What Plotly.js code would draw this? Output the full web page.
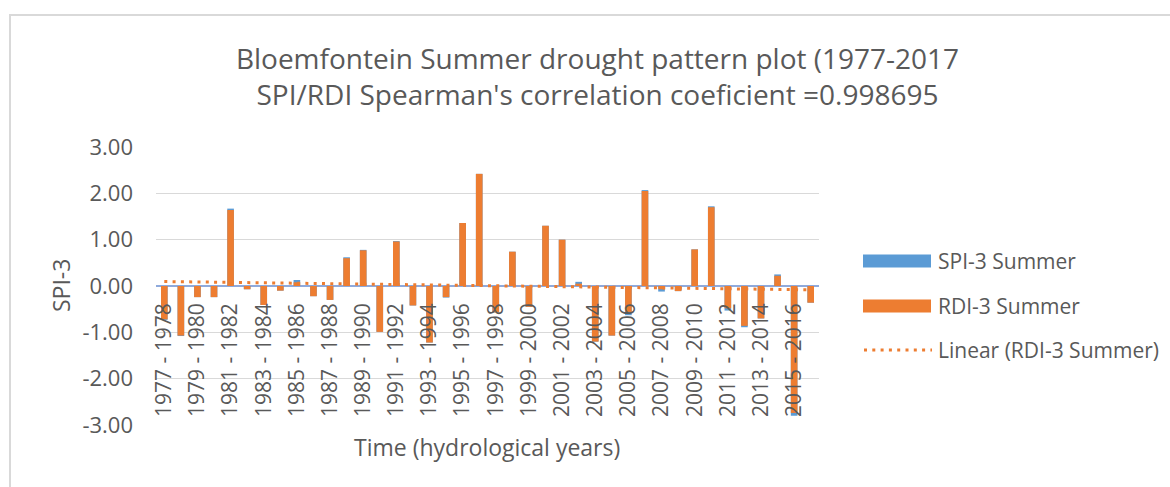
<!DOCTYPE html>
<html>
<head>
<meta charset="utf-8">
<script src="https://cdn.plot.ly/plotly-3.0.1.min.js"></script>
<style>
  html, body { margin: 0; padding: 0; background: #ffffff; }
  #wrap { position: relative; width: 1170px; height: 487px; overflow: hidden; }
  #chart { position: absolute; left: 0; top: 0; width: 1170px; height: 487px; }
  #frame { position: absolute; left: 9px; top: 14px; width: 1200px; height: 520px;
           border-left: 2px solid #d9d9d9; border-top: 2px solid #d9d9d9; pointer-events: none; }
</style>
</head>
<body>
<div id="wrap">
  <div id="chart"></div>
  <div id="frame"></div>
</div>
<script>
// ---- data ----
const categories = [
  "1977 - 1978", "1978 - 1979", "1979 - 1980", "1980 - 1981", "1981 - 1982",
  "1982 - 1983", "1983 - 1984", "1984 - 1985", "1985 - 1986", "1986 - 1987",
  "1987 - 1988", "1988 - 1989", "1989 - 1990", "1990 - 1991", "1991 - 1992",
  "1992 - 1993", "1993 - 1994", "1994 - 1995", "1995 - 1996", "1996 - 1997",
  "1997 - 1998", "1998 - 1999", "1999 - 2000", "2000 - 2001", "2001 - 2002",
  "2002 - 2003", "2003 - 2004", "2004 - 2005", "2005 - 2006", "2006 - 2007",
  "2007 - 2008", "2008 - 2009", "2009 - 2010", "2010 - 2011", "2011 - 2012",
  "2012 - 2013", "2013 - 2014", "2014 - 2015", "2015 - 2016", "2016 - 2017"
];
const spi3Summer = [
  -0.73, -1.08, -0.24, -0.24, 1.67, -0.07, -0.41, -0.10, 0.13, -0.22,
  -0.30, 0.62, 0.78, -0.99, 0.97, -0.42, -1.22, -0.25, 1.36, 2.42,
  -0.57, 0.74, -0.45, 1.30, 1.00, 0.09, -1.20, -1.07, -0.63, 2.07,
  -0.12, -0.11, 0.79, 1.72, -0.53, -0.89, -0.70, 0.25, -2.80, -0.36
];
const rdi3Summer = [
  -0.72, -1.07, -0.24, -0.24, 1.64, -0.07, -0.41, -0.10, 0.08, -0.22,
  -0.30, 0.60, 0.77, -0.99, 0.96, -0.42, -1.22, -0.24, 1.36, 2.42,
  -0.57, 0.74, -0.45, 1.30, 1.00, 0.05, -1.20, -1.07, -0.56, 2.05,
  -0.07, -0.11, 0.79, 1.70, -0.48, -0.86, -0.70, 0.22, -2.74, -0.36
];
const xTickLabels = [
  "1977 - 1978", "1979 - 1980", "1981 - 1982", "1983 - 1984", "1985 - 1986",
  "1987 - 1988", "1989 - 1990", "1991 - 1992", "1993 - 1994", "1995 - 1996",
  "1997 - 1998", "1999 - 2000", "2001 - 2002", "2003 - 2004", "2005 - 2006",
  "2007 - 2008", "2009 - 2010", "2011 - 2012", "2013 - 2014", "2015 - 2016"
];
const yTickVals = [-3, -2, -1, 0, 1, 2, 3];
const yTickText = ["-3.00", "-2.00", "-1.00", "0.00", "1.00", "2.00", "3.00"];
const seriesNames = ["SPI-3 Summer", "RDI-3 Summer", "Linear (RDI-3 Summer)"];

// ---- linear trendline (least squares on RDI-3, as Excel does) ----
const n = rdi3Summer.length;
let sx = 0, sy = 0, sxx = 0, sxy = 0;
rdi3Summer.forEach((v, i) => { const x = i + 1; sx += x; sy += v; sxx += x * x; sxy += x * v; });
const slope = (n * sxy - sx * sy) / (n * sxx - sx * sx);
const intercept = (sy - slope * sx) / n;
const trend = rdi3Summer.map((v, i) => intercept + slope * (i + 1));

// ---- styling ----
const BLUE = "#5B9BD5", ORANGE = "#ED7D31", TXT = "#595959";
const FONT = "'Open Sans', 'Noto Sans', sans-serif";
const L = 156, R = 819, T = 147, B = 425;
const px2x = p => (p - L) / (R - L);
const py2y = p => (B - p) / (B - T);
const trendDash = "3px,5.3px";

const traces = [
  { type: "bar", x: categories, y: spi3Summer, name: seriesNames[0],
    marker: { color: BLUE }, showlegend: false },
  { type: "bar", x: categories, y: rdi3Summer, name: seriesNames[1],
    marker: { color: ORANGE }, showlegend: false },
  { type: "scatter", mode: "lines", x: categories, y: trend, name: seriesNames[2],
    line: { color: ORANGE, width: 3, dash: trendDash }, showlegend: false }
];

const legendY = [261, 306, 350];
const shapes = [
  { type: "rect", xref: "paper", yref: "paper", x0: px2x(863), x1: px2x(931),
    y0: py2y(254.5), y1: py2y(267.5), fillcolor: BLUE, line: { width: 0 } },
  { type: "rect", xref: "paper", yref: "paper", x0: px2x(863), x1: px2x(931),
    y0: py2y(299.5), y1: py2y(312.5), fillcolor: ORANGE, line: { width: 0 } },
  { type: "line", xref: "paper", yref: "paper", x0: px2x(864), x1: px2x(932),
    y0: py2y(350), y1: py2y(350), line: { color: ORANGE, width: 3, dash: trendDash } }
];
const annotations = seriesNames.map((s, k) => ({
  xref: "paper", yref: "paper", x: px2x(936), y: py2y(legendY[k]),
  xanchor: "left", yanchor: "middle", showarrow: false, text: s,
  font: { family: FONT, size: 21, color: TXT }
}));
annotations.push({
  xref: "paper", yref: "paper", x: px2x(487), y: py2y(447),
  xanchor: "center", yanchor: "middle", showarrow: false,
  text: "Time (hydrological years)", font: { family: FONT, size: 23, color: TXT }
});
annotations.push({
  xref: "paper", yref: "paper", x: px2x(61), y: py2y(286),
  xanchor: "center", yanchor: "middle", showarrow: false, textangle: -90,
  text: "SPI-3", font: { family: FONT, size: 23, color: TXT }
});

const layout = {
  width: 1170, height: 487,
  margin: { l: L, r: 1170 - R, t: T, b: 487 - B, pad: 0 },
  paper_bgcolor: "#ffffff", plot_bgcolor: "#ffffff",
  font: { family: FONT, color: TXT },
  title: {
    text: "Bloemfontein Summer drought pattern plot (1977-2017<br>SPI/RDI Spearman's correlation coeficient =0.998695",
    font: { family: FONT, size: 28, color: TXT },
    x: 597.5 / 1170, xref: "container", xanchor: "center",
    y: 1 - 69 / 487, yref: "container", yanchor: "middle"
  },
  barmode: "overlay", bargap: 0.6,
  showlegend: false,
  xaxis: {
    type: "category", anchor: "free", position: 0.5,
    showline: false, showgrid: false, zeroline: false, ticks: "",
    tickmode: "array", tickvals: xTickLabels, ticktext: xTickLabels,
    tickangle: -90, ticklabelstandoff: 12,
    tickfont: { family: FONT, size: 21, color: TXT },
    automargin: false, fixedrange: true
  },
  yaxis: {
    range: [-3, 3], tickmode: "array", tickvals: yTickVals, ticktext: yTickText,
    showgrid: true, gridcolor: "#d9d9d9", gridwidth: 1.5,
    zeroline: true, zerolinecolor: "#8FAADC", zerolinewidth: 2,
    showline: false, ticks: "", ticklabelstandoff: 22,
    tickfont: { family: FONT, size: 22, color: TXT },
    automargin: false, fixedrange: true
  },
  shapes: shapes,
  annotations: annotations
};

Plotly.newPlot("chart", traces, layout, { displayModeBar: false, staticPlot: true });
</script>
</body>
</html>
